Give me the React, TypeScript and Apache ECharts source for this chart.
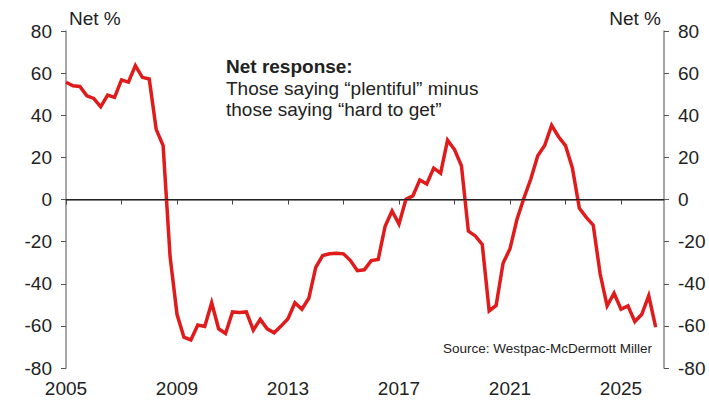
import React, { useEffect, useRef } from "react";
import * as echarts from "echarts";

// Quarterly observations starting 2005 Q1 (net % "plentiful" minus "hard to get")
const startYear = 2005;
const netResponse: number[] = [
  55.7, 54, 53.7, 49.2, 48, 44, 49.6, 48.5, 56.8, 55.7,
  63.6, 58, 57.2, 33.3, 25.6, -27, -54.5, -65.4, -66.7, -59.6,
  -60.3, -49, -61.4, -63.6, -53.4, -53.7, -53.4, -62, -56.9, -61.4,
  -63.3, -60.1, -56.6, -49, -52.1, -46.9, -32.2, -26.6, -25.8, -25.5,
  -25.8, -29, -33.8, -33.4, -29, -28.5, -12.7, -5.4, -11.7, 0.1,
  1.7, 9.3, 7.4, 14.9, 12.5, 28.2, 23.7, 16, -15, -17.3,
  -21.3, -52.9, -50.3, -30.3, -23.4, -9.5, 0.6, 9.7, 20.8, 25.6,
  35.2, 29.8, 25.6, 14.9, -4.2, -8.5, -12.2, -35.4, -50.5, -44.5,
  -52.1, -50.5, -58, -54.5, -45.7, -60.6,
];
const yTicks = { min: -80, max: 80, step: 20 };
const xLabelYears = [2005, 2009, 2013, 2017, 2021, 2025];
const unitLabel = "Net %";
const noteTitle = "Net response:";
const noteLines = ["Those saying \u201cplentiful\u201d minus", "those saying \u201chard to get\u201d"];
const sourceText = "Source: Westpac-McDermott Miller";

const FONT = "'Liberation Sans', Arial, Helvetica, sans-serif";
const TEXT = "#222222";

export default function App() {
  const ref = useRef<HTMLDivElement>(null);
  useEffect(() => {
    if (!ref.current) return;
    const chart = echarts.init(ref.current, undefined, { renderer: "svg" });
    const points = netResponse.map((v, i) => [i / 4, v]);
    const yAxisCommon = {
      type: "value" as const,
      min: yTicks.min,
      max: yTicks.max,
      interval: yTicks.step,
      splitLine: { show: false },
      axisLine: { show: true, lineStyle: { color: "#8a8a8a", width: 1.5 } },
      axisTick: { show: true, inside: false, length: 5, lineStyle: { color: "#555", width: 1 } },
      axisLabel: { color: TEXT, fontSize: 19, fontFamily: FONT, margin: 14 },
    };
    chart.setOption({
      animation: false,
      backgroundColor: "#ffffff",
      grid: { left: 66, right: 45, top: 31, bottom: 32, containLabel: false },
      xAxis: {
        type: "value",
        min: 0,
        max: 21.55,
        interval: 2,
        splitLine: { show: false },
        axisLine: { show: true, lineStyle: { color: "#555555", width: 1.5 } },
        axisTick: { show: true, length: 5, lineStyle: { color: "#444", width: 1 } },
        axisLabel: {
          color: TEXT,
          fontSize: 19,
          fontFamily: FONT,
          margin: 11,
          showMaxLabel: false,
          formatter: (v: number) => {
            const y = Math.round(startYear + v);
            return Math.abs(startYear + v - y) < 1e-6 && xLabelYears.includes(y) ? String(y) : "";
          },
        },
      },
      yAxis: [
        { ...yAxisCommon, position: "left" },
        { ...yAxisCommon, position: "right" },
      ],
      series: [
        {
          type: "line",
          yAxisIndex: 0,
          data: points,
          showSymbol: false,
          symbol: "none",
          lineStyle: { color: "#e01b1b", width: 3.5, join: "miter" },
          markLine: {
            silent: true,
            symbol: "none",
            label: { show: false },
            lineStyle: { color: "#222", width: 1, type: "solid" },
            data: [{ yAxis: 0 }],
          },
        },
      ],
      graphic: [
        {
          type: "text",
          left: 69,
          top: 9,
          style: { text: unitLabel, fontSize: 19, fontFamily: FONT, fill: TEXT },
        },
        {
          type: "text",
          right: 48,
          top: 9,
          style: { text: unitLabel, fontSize: 19, fontFamily: FONT, fill: TEXT },
        },
        {
          type: "text",
          left: 226,
          top: 57,
          style: { text: noteTitle, fontSize: 19, fontWeight: "bold", fontFamily: FONT, fill: TEXT },
        },
        {
          type: "text",
          left: 226,
          top: 78,
          style: { text: noteLines.join("\n"), fontSize: 19, lineHeight: 21, fontFamily: FONT, fill: TEXT },
        },
        {
          type: "text",
          right: 57,
          top: 341,
          style: { text: sourceText, fontSize: 13.5, fontFamily: FONT, fill: TEXT },
        },
      ],
    });
    return () => chart.dispose();
  }, []);
  return (
    <div
      ref={ref}
      style={{ position: "fixed", left: 0, top: 0, width: 709, height: 400, background: "#fff" }}
    />
  );
}
